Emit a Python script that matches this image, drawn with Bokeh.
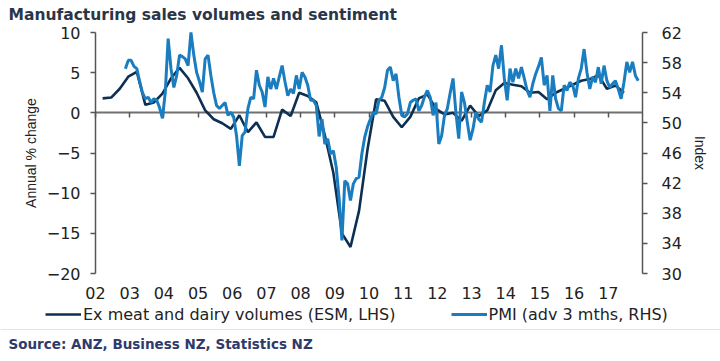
import pandas as pd
from bokeh.plotting import figure
from bokeh.models import (Range1d, LinearAxis, FixedTicker, Span, Legend,
                          LegendItem, Label, ColumnDataSource)
from bokeh.embed import file_html
from bokeh.resources import INLINE

# ---------------- data ----------------
esm_start = "2002-03-01"   # quarterly, Mar 2002 .. Jun 2017
esm_values = [1.8, 1.9, 3.0, 4.5, 5.1, 1.0, 1.3, 2.4, 4.3, 5.6,
              4.3, 2.5, 0.3, -0.8, -1.3, -2.0, -0.3, -2.4, -1.2, -3.0,
              -3.0, 0.4, -0.4, 2.5, 2.1, 1.3, -2.8, -7.5, -15.0, -16.7,
              -12.2, -4.5, 1.7, 1.5, -0.5, -1.8, -0.5, 1.8, 2.3, 0.5,
              -0.2, 0.0, -1.0, 0.9, -0.4, 0.3, 2.8, 3.7, 3.5, 3.3,
              2.5, 2.6, 1.7, 2.5, 3.0, 3.5, 4.0, 4.2, 4.7, 3.0,
              3.4, 2.5]

pmi_start = "2002-11-01"   # monthly, advanced 3 months
pmi_values = [57.2, 58.3, 58.3, 57.5, 57.2, 55.5, 54.0, 53.2, 53.4, 52.7, 53.2, 53.0,
              52.0, 50.6, 54.1, 61.2, 57.2, 54.7, 56.3, 59.0, 58.8, 58.5, 57.6, 62.0,
              59.0, 56.7, 55.5, 54.1, 58.5, 59.0, 56.3, 54.0, 52.3, 51.9, 52.3, 52.7,
              51.0, 51.4, 50.8, 48.3, 44.3, 48.3, 48.8, 51.9, 53.4, 53.2, 57.0, 55.0,
              54.1, 52.1, 56.1, 54.5, 55.9, 54.5, 56.1, 57.6, 55.5, 53.6, 54.5, 53.9,
              56.3, 54.5, 56.7, 56.1, 55.0, 53.0, 53.0, 52.3, 48.2, 50.5, 47.2, 47.9,
              45.9, 46.3, 44.1, 40.0, 34.4, 42.3, 41.9, 39.7, 41.9, 42.6, 42.8, 45.9,
              48.1, 49.5, 50.5, 51.4, 51.2, 53.0, 53.4, 54.7, 57.0, 57.4, 55.6, 56.5,
              53.4, 51.0, 50.8, 51.2, 52.7, 53.0, 53.2, 51.6, 52.3, 53.5, 54.3, 53.4,
              51.0, 52.7, 47.2, 48.3, 51.0, 51.9, 54.0, 55.9, 51.4, 47.9, 54.1, 52.7,
              50.1, 47.7, 49.2, 51.4, 50.5, 50.1, 52.7, 55.0, 54.1, 57.6, 59.0, 57.2,
              60.3, 55.9, 53.0, 57.2, 55.4, 57.2, 55.9, 57.4, 55.9, 54.3, 53.4, 55.2,
              56.5, 57.5, 58.7, 55.0, 56.3, 51.6, 56.3, 53.2, 51.9, 51.6, 55.0, 54.3,
              55.4, 55.0, 53.4, 55.9, 57.2, 59.8, 56.7, 54.5, 56.1, 55.4, 57.4, 55.2,
              57.6, 55.6, 54.7, 55.2, 55.6, 54.5, 53.2, 55.4, 58.1, 56.7, 58.1, 56.3,
              55.6]

year_ticks = list(range(2002, 2018))
year_labels = ["02", "03", "04", "05", "06", "07", "08", "09",
               "10", "11", "12", "13", "14", "15", "16", "17"]
left_ticks = [10, 5, 0, -5, -10, -15, -20]
right_ticks = [62, 58, 54, 50, 46, 42, 38, 34, 30]

title_text = "Manufacturing sales volumes and sentiment"
source_text = "Source: ANZ, Business NZ, Statistics NZ"
esm_label = "Ex meat and dairy volumes (ESM, LHS)"
pmi_label = "PMI (adv 3 mths, RHS)"

# ---------------- layout geometry (pixels) ----------------
W, H = 720, 361
AX_L, AX_R = 95, 642          # left / right axis x
AX_T, AX_B = 32, 273          # top (10 / 62) / bottom (-20 / 30) y
X_LO, X_HI = 2002, 2018
Y_LO, Y_HI = -20, 10
P_LO, P_HI = 30, 62

ppx = (AX_R - AX_L) / (X_HI - X_LO)
ppy = (AX_B - AX_T) / (Y_HI - Y_LO)
ppp = (AX_B - AX_T) / (P_HI - P_LO)

def px_x(px):
    return X_LO + (px - AX_L) / ppx

def px_y(py):
    return Y_LO + (AX_B - py) / ppy

x_range = Range1d(px_x(0), px_x(W))
y_range = Range1d(px_y(H), px_y(0))
p_range = Range1d(P_LO - (H - AX_B) / ppp, P_HI + AX_T / ppp)

# ---------------- positions of data ----------------
def dec_year(d):
    return d.year + (d.month - 0.5) / 12.0

esm_dates = pd.date_range(esm_start, periods=len(esm_values), freq="3MS")
pmi_dates = pd.date_range(pmi_start, periods=len(pmi_values), freq="MS")
esm_src = ColumnDataSource(dict(x=list(dec_year(esm_dates)), y=esm_values))
pmi_src = ColumnDataSource(dict(x=list(dec_year(pmi_dates)), y=pmi_values))

DARK = "#0c2f52"
LIGHT = "#1a7dc0"
AXIS = "#555555"
TXT = "#222222"

p = figure(width=W, height=H, output_backend="svg", toolbar_location=None,
           title=None, x_range=x_range, y_range=y_range,
           x_axis_type=None, y_axis_type=None,
           min_border_left=0, min_border_right=0, min_border_top=0,
           min_border_bottom=0)
p.extra_y_ranges = {"pmi": p_range}
p.outline_line_color = None
p.background_fill_color = "white"
p.border_fill_color = "white"

r_esm = p.line("x", "y", source=esm_src, line_color=DARK, line_width=2.6)
r_pmi = p.line("x", "y", source=pmi_src, y_range_name="pmi",
               line_color=LIGHT, line_width=3)

# zero line with year tick marks (behind the lines)
zax = LinearAxis(fixed_location=0, bounds=(X_LO, X_HI),
                 ticker=FixedTicker(ticks=year_ticks), level="underlay")
zax.major_label_overrides = {t: "" for t in year_ticks}
zax.axis_line_color = "#707070"
zax.axis_line_width = 2
zax.major_tick_line_color = AXIS
zax.major_tick_line_width = 1.5
zax.major_tick_out = 5
zax.major_tick_in = 0
zax.minor_tick_line_color = None
p.add_layout(zax, "below")

# year labels under the plot
xax = LinearAxis(fixed_location=Y_LO, bounds=(X_LO, X_HI),
                 ticker=FixedTicker(ticks=year_ticks))
xax.major_label_overrides = {t: l for t, l in zip(year_ticks, year_labels)}
xax.axis_line_color = None
xax.major_tick_line_color = None
xax.minor_tick_line_color = None
xax.major_tick_out = 0
xax.major_label_standoff = 13
xax.major_label_text_font = "DejaVu Sans"
xax.major_label_text_font_size = "16px"
xax.major_label_text_color = TXT
p.add_layout(xax, "below")

# left axis
ya = LinearAxis(fixed_location=X_LO, bounds=(Y_LO, Y_HI),
                ticker=FixedTicker(ticks=left_ticks), axis_label="Annual % change")
ya.axis_line_color = AXIS
ya.axis_line_width = 1.5
ya.major_tick_line_color = AXIS
ya.major_tick_line_width = 1.5
ya.major_tick_out = 5
ya.major_tick_in = 0
ya.minor_tick_line_color = None
ya.major_label_standoff = 10
ya.major_label_text_font = "DejaVu Sans"
ya.major_label_text_font_size = "16px"
ya.major_label_text_color = TXT
ya.axis_label_text_font = "Liberation Sans"
ya.axis_label_text_font_size = "14px"
ya.axis_label_text_font_style = "normal"
ya.axis_label_text_color = TXT
ya.axis_label_standoff = 5
p.add_layout(ya, "left")

# right axis
ra = LinearAxis(y_range_name="pmi", fixed_location=X_HI, bounds=(P_LO, P_HI),
                ticker=FixedTicker(ticks=right_ticks), axis_label="Index")
ra.axis_line_color = AXIS
ra.axis_line_width = 1.5
ra.major_tick_line_color = AXIS
ra.major_tick_line_width = 1.5
ra.major_tick_out = 5
ra.major_tick_in = 0
ra.minor_tick_line_color = None
ra.major_label_standoff = 14
ra.major_label_text_font = "DejaVu Sans"
ra.major_label_text_font_size = "16px"
ra.major_label_text_color = TXT
ra.axis_label_text_font = "Liberation Sans"
ra.axis_label_text_font_size = "14px"
ra.axis_label_text_font_style = "normal"
ra.axis_label_text_color = TXT
ra.axis_label_standoff = 7
p.add_layout(ra, "right")

# legend
legend = Legend(items=[LegendItem(label=esm_label, renderers=[r_esm]),
                       LegendItem(label=pmi_label, renderers=[r_pmi])],
                orientation="horizontal", location=(45, H - 324),
                glyph_width=36, glyph_height=20, label_height=20,
                label_standoff=2, spacing=55, padding=0, margin=0,
                border_line_color=None, background_fill_alpha=0,
                label_text_font="DejaVu Sans", label_text_font_size="16px",
                label_text_color=TXT)
p.add_layout(legend)

# title, separator and source
p.add_layout(Label(x=px_x(8), y=px_y(14), text=title_text,
                   text_align="left", text_baseline="middle",
                   text_font="DejaVu Sans", text_font_size="15.5px",
                   text_font_style="bold", text_color="#2b3548"))
p.add_layout(Span(location=px_y(329), dimension="width",
                  line_color="#e4e4e4", line_width=1))
p.add_layout(Label(x=px_x(8), y=px_y(343), text=source_text,
                   text_align="left", text_baseline="middle",
                   text_font="DejaVu Sans", text_font_size="13.5px",
                   text_font_style="bold", text_color="#2f3a6b"))

open("out.html", "w").write(file_html(p, INLINE))
